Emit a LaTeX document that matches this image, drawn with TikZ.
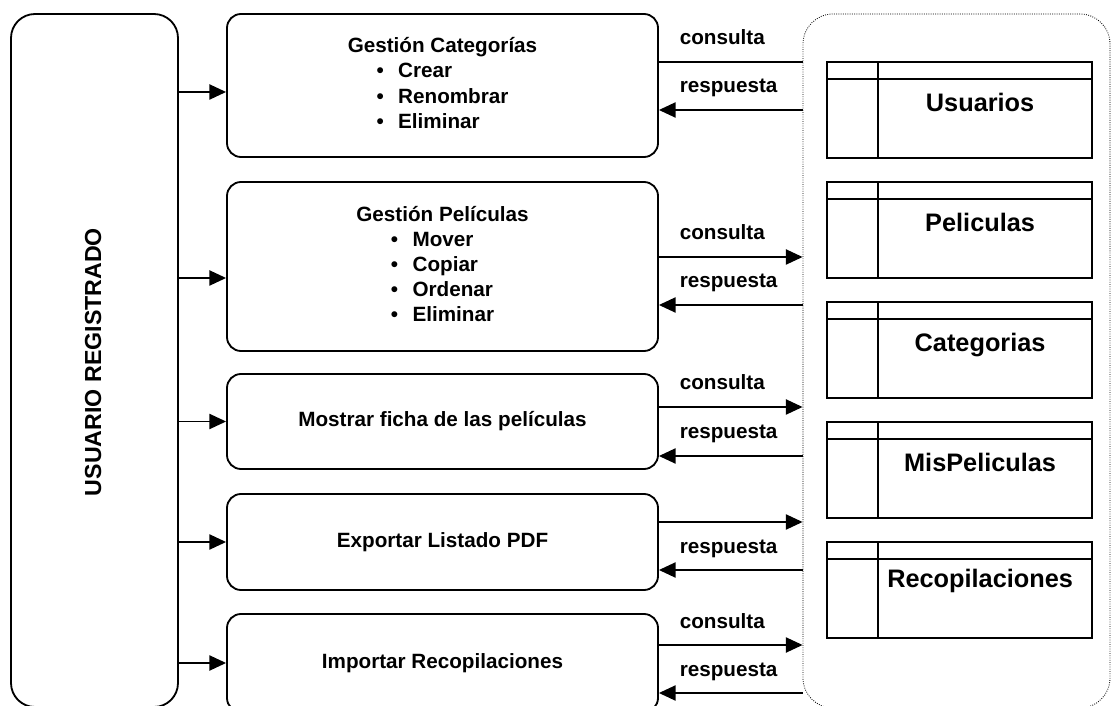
\documentclass[tikz,border=0pt]{standalone}
\usepackage{fontspec}
\setmainfont{Liberation Sans}
\usetikzlibrary{arrows.meta,calc}

\begin{document}
\begin{tikzpicture}[
        line width=1.3pt,
        caja/.style={draw,rounded corners=0.35cm,minimum width=10.775cm,font=\fontsize{14.7}{17.8}\selectfont\bfseries},
        tabla/.style={draw,minimum width=6.625cm,minimum height=2.4cm},
        tabtxt/.style={font=\fontsize{18}{21}\selectfont\bfseries,anchor=base,inner sep=0pt},
        flecha/.style={-{Triangle[length=0.42cm,width=0.38cm]}},
        etiq/.style={font=\fontsize{14.7}{17.8}\selectfont\bfseries,inner sep=0pt,anchor=base west,xshift=0.5cm,yshift=0.425cm}
    ]
        \useasboundingbox (0,0) rectangle (27.8,-17.65);
        %% Usuario
        \node[draw,rounded corners=0.6cm,minimum width=4.175cm,minimum height=17.325cm] (usuario) at (2.3625,-9.0125) {};
        \node[rotate=90,font=\fontsize{16.5}{20}\selectfont\bfseries] (rotulo) at (2.33,-9.05) {USUARIO REGISTRADO};
        %% Funciones
        \node[caja,minimum height=3.575cm] (gcat) at (11.0625,-2.1375) {\begin{tabular}{@{}c@{}}Gestión Categorías\\\begin{tabular}[t]{@{}l@{}}•\hspace{0.7em}Crear\\•\hspace{0.7em}Renombrar\\•\hspace{0.7em}Eliminar\end{tabular}\end{tabular}};
        \node[caja,minimum height=4.225cm] (gpel) at (11.0625,-6.6625) {\begin{tabular}{@{}c@{}}Gestión Películas\\\begin{tabular}[t]{@{}l@{}}•\hspace{0.7em}Mover\\•\hspace{0.7em}Copiar\\•\hspace{0.7em}Ordenar\\•\hspace{0.7em}Eliminar\end{tabular}\end{tabular}};
        \node[caja,minimum height=2.375cm] (ficha) at (11.0625,-10.5375) {Mostrar ficha de las películas};
        \node[caja,minimum height=2.4cm] (export) at (11.0625,-13.55) {Exportar Listado PDF};
        \node[caja,minimum height=2.45cm] (import) at (11.0625,-16.575) {Importar Recopilaciones};
        %% Flechas del usuario
        \draw[flecha] ($(gcat.west -| usuario.east)+(0,-0.1625)$) -- ($(gcat.west)+(0,-0.1625)$);
        \draw[flecha] ($(gpel.west -| usuario.east)+(0,-0.2875)$) -- ($(gpel.west)+(0,-0.2875)$);
        \draw[flecha] (ficha.west -| usuario.east) -- (ficha.west);
        \draw[flecha] (export.west -| usuario.east) -- (export.west);
        \draw[flecha] (import.west -| usuario.east) -- (import.west);
        %% Base de datos
        \node[draw,densely dotted,line width=0.6pt,rounded corners=0.75cm,minimum width=7.675cm,minimum height=17.35cm] (bd) at (23.9125,-9.025) {};
        %% Consultas y respuestas
        \draw ($(gcat.east)+(0,0.5875)$) -- ($(gcat.east -| bd.west)+(0,0.5875)$) node[etiq,at start] {consulta};
        \draw[flecha] ($(gcat.east -| bd.west)+(0,-0.6125)$) -- ($(gcat.east)+(0,-0.6125)$) node[etiq,at end] {respuesta};
        \draw[flecha] ($(gpel.east)+(0,0.2375)$) -- ($(gpel.east -| bd.west)+(0,0.2375)$) node[etiq,at start] {consulta};
        \draw[flecha] ($(gpel.east -| bd.west)+(0,-0.9625)$) -- ($(gpel.east)+(0,-0.9625)$) node[etiq,at end] {respuesta};
        \draw[flecha] ($(ficha.east)+(0,0.3625)$) -- ($(ficha.east -| bd.west)+(0,0.3625)$) node[etiq,at start] {consulta};
        \draw[flecha] ($(ficha.east -| bd.west)+(0,-0.8625)$) -- ($(ficha.east)+(0,-0.8625)$) node[etiq,at end] {respuesta};
        \draw[flecha] ($(export.east)+(0,0.5)$) -- ($(export.east -| bd.west)+(0,0.5)$);
        \draw[flecha] ($(export.east -| bd.west)+(0,-0.7)$) -- ($(export.east)+(0,-0.7)$) node[etiq,at end] {respuesta};
        \draw[flecha] ($(import.east)+(0,0.45)$) -- ($(import.east -| bd.west)+(0,0.45)$) node[etiq,at start] {consulta};
        \draw[flecha] ($(import.east -| bd.west)+(0,-0.75)$) -- ($(import.east)+(0,-0.75)$) node[etiq,at end] {respuesta};
        %% Tablas
        \node[tabla] (tusu) at (23.9875,-2.75) {};
        \draw ([yshift=-0.45cm]tusu.north west) -- ([yshift=-0.45cm]tusu.north east);
        \draw ([xshift=1.3cm]tusu.north west) -- ([xshift=1.3cm]tusu.south west);
        \node[tabtxt] (lusu) at ([xshift=3.85cm,yshift=-1.25cm]tusu.north west) {Usuarios};
        \node[tabla] (tpel) at (23.9875,-5.75) {};
        \draw ([yshift=-0.45cm]tpel.north west) -- ([yshift=-0.45cm]tpel.north east);
        \draw ([xshift=1.3cm]tpel.north west) -- ([xshift=1.3cm]tpel.south west);
        \node[tabtxt] (lpel) at ([xshift=3.85cm,yshift=-1.25cm]tpel.north west) {Peliculas};
        \node[tabla] (tcat) at (23.9875,-8.75) {};
        \draw ([yshift=-0.45cm]tcat.north west) -- ([yshift=-0.45cm]tcat.north east);
        \draw ([xshift=1.3cm]tcat.north west) -- ([xshift=1.3cm]tcat.south west);
        \node[tabtxt] (lcat) at ([xshift=3.85cm,yshift=-1.25cm]tcat.north west) {Categorias};
        \node[tabla] (tmis) at (23.9875,-11.75) {};
        \draw ([yshift=-0.45cm]tmis.north west) -- ([yshift=-0.45cm]tmis.north east);
        \draw ([xshift=1.3cm]tmis.north west) -- ([xshift=1.3cm]tmis.south west);
        \node[tabtxt] (lmis) at ([xshift=3.85cm,yshift=-1.25cm]tmis.north west) {MisPeliculas};
        \node[tabla] (trec) at (23.9875,-14.75) {};
        \draw ([yshift=-0.45cm]trec.north west) -- ([yshift=-0.45cm]trec.north east);
        \draw ([xshift=1.3cm]trec.north west) -- ([xshift=1.3cm]trec.south west);
        \node[tabtxt] (lrec) at ([xshift=3.85cm,yshift=-1.17cm]trec.north west) {Recopilaciones};
    \end{tikzpicture}
\end{document}
